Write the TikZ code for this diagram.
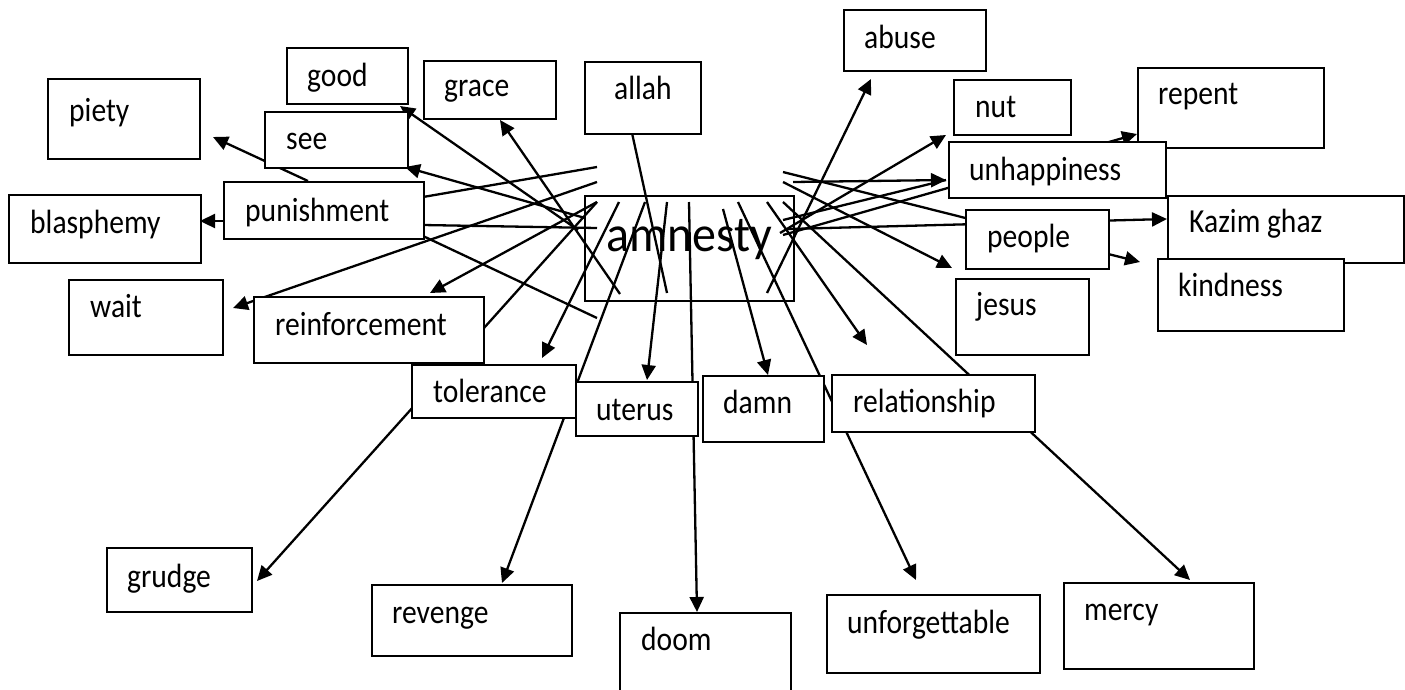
\documentclass[tikz,border=0pt]{standalone}
\usepackage{fontspec}
\usepackage{graphicx}
\setmainfont{Carlito}
\usetikzlibrary{arrows.meta}
\newcommand\tall[1]{\scalebox{1.02}[1.16]{#1}}
\begin{document}
\begin{tikzpicture}[x=1pt,y=-1pt,
  box/.style={draw=black, line width=1.8pt, fill=white, inner sep=0pt, anchor=north west},
  lbl/.style={anchor=base west, inner sep=0pt, font=\fontsize{29}{34}\selectfont},
  con/.style={line width=2.3pt, line cap=butt},
  arr/.style={con, -{Triangle[length=15pt,width=14pt]}}]
\clip (0,0) rectangle (1405,689);
\fill[white] (0,0) rectangle (1405,689);

% centre box (lines are drawn over it)
\node[box, fill=none, minimum width=209pt, minimum height=105pt] (amnesty) at (584,195) {};
\node[lbl, font=\fontsize{47}{56}\selectfont] (t-amnesty) at (606,251) {\scalebox{1.02}[1.08]{amnesty}};

% free ends of the connectors
\coordinate (pA) at (423,197);   \coordinate (pB) at (597,167);
\coordinate (wA) at (597,182);   \coordinate (wB) at (233,308);
\coordinate (rA) at (597,202);   \coordinate (rB) at (430,293);
\coordinate (gA) at (597,202);   \coordinate (gB) at (257,581);
\coordinate (hA) at (423,225);   \coordinate (hB) at (597,228);
\coordinate (bA) at (423,236);   \coordinate (bB) at (597,318);
\coordinate (tA) at (619,202);   \coordinate (tB) at (542,358);
\coordinate (vA) at (645,202);   \coordinate (vB) at (502,583);
\coordinate (uA) at (667,202);   \coordinate (uB) at (647,380);
\coordinate (dA) at (689,202);   \coordinate (dB) at (697,612);
\coordinate (mA) at (723,209);   \coordinate (mB) at (768,375);
\coordinate (fA) at (738,202);   \coordinate (fB) at (916,580);
\coordinate (lA) at (767,202);   \coordinate (lB) at (867,345);
\coordinate (cA) at (783,202);   \coordinate (cB) at (1190,580);
\coordinate (aA) at (767,293);   \coordinate (aB) at (871,79);
\coordinate (nA) at (780,233);   \coordinate (nB) at (946,135);
\coordinate (kA) at (788,229);   \coordinate (kB) at (1167,219);
\coordinate (iA) at (783,172);   \coordinate (iB) at (1140,262);
\coordinate (jA) at (783,182);   \coordinate (jB) at (952,268);
\coordinate (yA) at (793,182);   \coordinate (yB) at (946,180);
\coordinate (zA) at (783,220);
\coordinate (qA) at (783,235);   \coordinate (qB) at (1137,134);
\coordinate (lhA) at (632,133);  \coordinate (lhB) at (667,293);
\coordinate (grA) at (620,294);  \coordinate (grB) at (500,120);
\coordinate (goA) at (578,230);  \coordinate (goB) at (400,106);
\coordinate (seA) at (585,218);  \coordinate (seB) at (405,167);
\coordinate (piA) at (308,181);  \coordinate (piB) at (213,137);
\coordinate (blA) at (223,221);  \coordinate (blB) at (200,221);

% connectors
\draw[con] (pA) -- (pB);
\draw[arr] (wA) -- (wB);
\draw[arr] (rA) -- (rB);
\draw[arr] (gA) -- (gB);
\draw[con] (hA) -- (hB);
\draw[con] (bA) -- (bB);
\draw[arr] (tA) -- (tB);
\draw[arr] (vA) -- (vB);
\draw[arr] (uA) -- (uB);
\draw[arr] (dA) -- (dB);
\draw[arr] (mA) -- (mB);
\draw[arr] (fA) -- (fB);
\draw[arr] (lA) -- (lB);
\draw[arr] (cA) -- (cB);
\draw[arr] (aA) -- (aB);
\draw[arr] (nA) -- (nB);
\draw[arr] (kA) -- (kB);
\draw[arr] (iA) -- (iB);
\draw[arr] (jA) -- (jB);
\draw[arr] (yA) -- (yB);
\draw[con] (zA) -- (yB);
\draw[arr] (qA) -- (qB);
\draw[con] (lhA) -- (lhB);
\draw[arr] (grA) -- (grB);
\draw[arr] (goA) -- (goB);
\draw[arr] (seA) -- (seB);
\draw[arr] (piA) -- (piB);
\draw[arr] (blA) -- (blB);

% boxes (white, drawn over the connectors)
\node[box, minimum width=152pt, minimum height=80pt] (piety) at (47,78) {};
\node[lbl] (t-piety) at (69,121) {\tall{piety}};
\node[box, minimum width=121pt, minimum height=56pt] (good) at (286,47) {};
\node[lbl] (t-good) at (307,86) {\tall{good}};
\node[box, minimum width=143pt, minimum height=56pt] (see) at (264,111) {};
\node[lbl] (t-see) at (286,149) {\tall{see}};
\node[box, minimum width=200pt, minimum height=57pt] (punishment) at (223,181) {};
\node[lbl] (t-punishment) at (245,221) {\tall{punishment}};
\node[box, minimum width=192pt, minimum height=68pt] (blasphemy) at (8,194) {};
\node[lbl] (t-blasphemy) at (30,233) {\tall{blasphemy}};
\node[box, minimum width=154pt, minimum height=75pt] (wait) at (68,279) {};
\node[lbl] (t-wait) at (90,317) {\tall{wait}};
\node[box, minimum width=230pt, minimum height=66pt] (reinforcement) at (253,296) {};
\node[lbl] (t-reinforcement) at (275,335) {\tall{reinforcement}};
\node[box, minimum width=132pt, minimum height=58pt] (grace) at (423,60) {};
\node[lbl] (t-grace) at (444,96) {\tall{grace}};
\node[box, minimum width=116pt, minimum height=72pt] (allah) at (584,61) {};
\node[lbl] (t-allah) at (614,99) {\tall{allah}};
\node[box, minimum width=164pt, minimum height=53pt] (tolerance) at (411,364) {};
\node[lbl] (t-tolerance) at (433,402) {\tall{tolerance}};
\node[box, minimum width=122pt, minimum height=54pt] (uterus) at (575,381) {};
\node[lbl] (t-uterus) at (596,420) {\tall{uterus}};
\node[box, minimum width=145pt, minimum height=64pt] (grudge) at (106,547) {};
\node[lbl] (t-grudge) at (127,587) {\tall{grudge}};
\node[box, minimum width=200pt, minimum height=71pt] (revenge) at (371,584) {};
\node[lbl] (t-revenge) at (392,623) {\tall{revenge}};
\node[box, minimum width=171pt, minimum height=90pt] (doom) at (619,612) {};
\node[lbl] (t-doom) at (641,650) {\tall{doom}};
\node[box, minimum width=121pt, minimum height=66pt] (damn) at (702,375) {};
\node[lbl] (t-damn) at (723,413) {\tall{damn}};
\node[box, minimum width=203pt, minimum height=57pt] (relationship) at (831,374) {};
\node[lbl] (t-relationship) at (853,412) {\tall{relationship}};
\node[box, minimum width=213pt, minimum height=78pt] (unforgettable) at (826,594) {};
\node[lbl] (t-unforgettable) at (847,633) {\tall{unforgettable}};
\node[box, minimum width=190pt, minimum height=86pt] (mercy) at (1063,582) {};
\node[lbl] (t-mercy) at (1084,620) {\tall{mercy}};
\node[box, minimum width=142pt, minimum height=61pt] (abuse) at (843,9) {};
\node[lbl] (t-abuse) at (864,48) {\tall{abuse}};
\node[box, minimum width=117pt, minimum height=55pt] (nut) at (953,79) {};
\node[lbl] (t-nut) at (975,117) {\tall{nut}};
\node[box, minimum width=186pt, minimum height=80pt] (repent) at (1137,67) {};
\node[lbl] (t-repent) at (1158,104) {\tall{repent}};
\node[box, minimum width=217pt, minimum height=56pt] (unhappiness) at (948,141) {};
\node[lbl] (t-unhappiness) at (969,180) {\tall{unhappiness}};
\node[box, minimum width=143pt, minimum height=59pt] (people) at (965,209) {};
\node[lbl] (t-people) at (987,247) {\tall{people}};
\node[box, minimum width=236pt, minimum height=67pt] (kazim) at (1167,195) {};
\node[lbl] (t-kazim) at (1189,232) {\tall{Kazim ghaz}};
\node[box, minimum width=186pt, minimum height=72pt] (kindness) at (1157,258) {};
\node[lbl] (t-kindness) at (1178,296) {\tall{kindness}};
\node[box, minimum width=133pt, minimum height=76pt] (jesus) at (955,278) {};
\node[lbl] (t-jesus) at (976,315) {\tall{jesus}};
\end{tikzpicture}
\end{document}
